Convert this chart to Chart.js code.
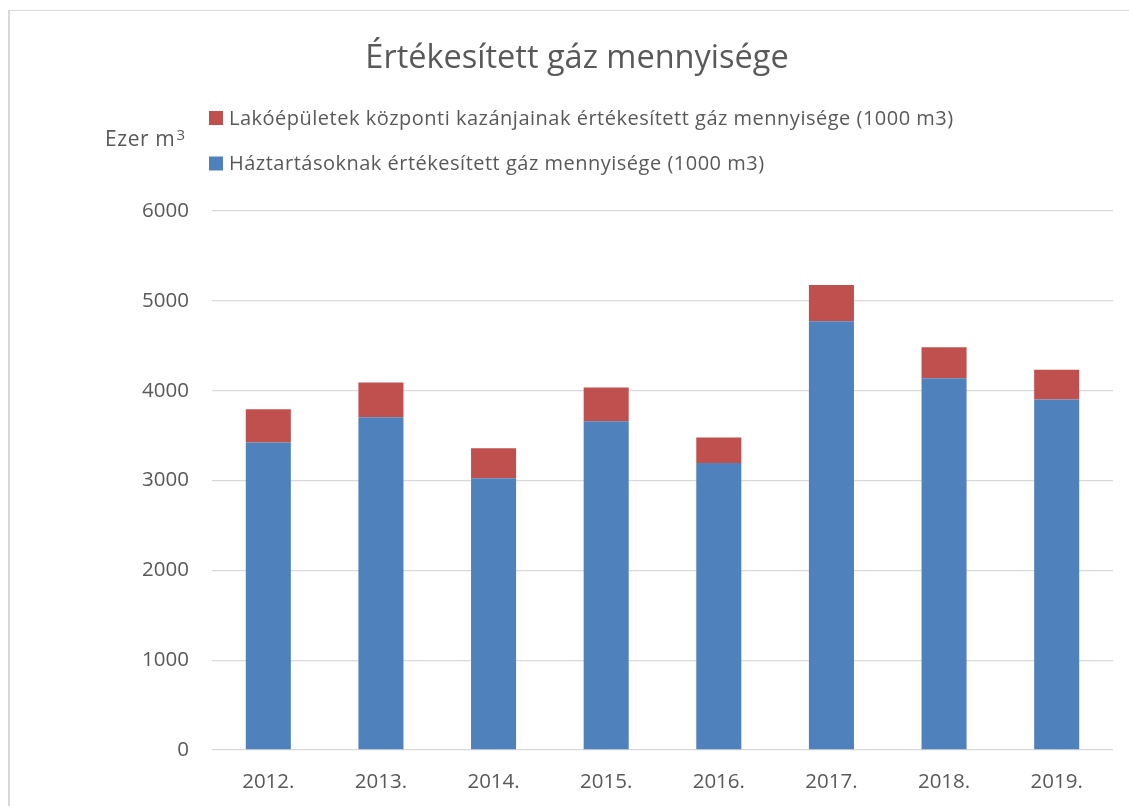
<!DOCTYPE html>
<html>
<head>
<meta charset="utf-8">
<script src="https://cdn.jsdelivr.net/npm/chart.js@4/dist/chart.umd.min.js"></script>
<style>
  html, body { margin: 0; padding: 0; background: #fff; overflow: hidden; }
  #wrap { position: absolute; left: 0; top: 0; width: 1129px; height: 806px; }
  #frame { position: absolute; left: 8px; top: 10px; width: 1200px; height: 900px;
           border-left: 2px solid #d9d9d9; border-top: 1px solid #d9d9d9; pointer-events: none; }
</style>
</head>
<body>
<div id="wrap"><canvas id="c" width="1129" height="806"></canvas></div>
<div id="frame"></div>
<script>
const categories = ['2012.', '2013.', '2014.', '2015.', '2016.', '2017.', '2018.', '2019.'];
const householdValues = [3422, 3705, 3026, 3660, 3196, 4774, 4139, 3901];
const centralBoilerValues = [372, 385, 334, 375, 282, 401, 345, 331];
const yTicks = [0, 1000, 2000, 3000, 4000, 5000, 6000];
const householdLabel = 'Háztartásoknak értékesített gáz mennyisége (1000 m3)';
const centralBoilerLabel = 'Lakóépületek központi kazánjainak értékesített gáz mennyisége (1000 m3)';
const titleText = 'Értékesített gáz mennyisége';
const axisUnit = 'Ezer m';
const axisUnitSup = '3';

const FONT = "'Open Sans', 'DejaVu Sans', sans-serif";
const TEXT = '#595959';

const customLegend = {
  id: 'customLegend',
  afterDraw(chart) {
    const ctx = chart.ctx;
    ctx.save();
    ctx.fillStyle = TEXT;
    ctx.textAlign = 'left';
    ctx.textBaseline = 'alphabetic';
    // unit label
    ctx.font = "21px " + FONT;
    ctx.letterSpacing = '0.6px';
    ctx.fillText(axisUnit, 105, 146);
    const w = ctx.measureText(axisUnit).width;
    ctx.font = "15px " + FONT;
    ctx.fillText(axisUnitSup, 105 + w + 1, 139.5);
    // legend (reverse of dataset order, as in the reference)
    const items = chart.data.datasets.slice().reverse();
    ctx.font = "20px " + FONT;
    ctx.letterSpacing = '0.5px';
    items.forEach((ds, i) => {
      const top = 111 + i * 45.5;
      ctx.fillStyle = ds.backgroundColor;
      ctx.fillRect(209, top, 14, 14);
      ctx.fillStyle = TEXT;
      ctx.fillText(ds.label, 229, top + 13.5);
    });
    ctx.restore();
  }
};

new Chart(document.getElementById('c'), {
  type: 'bar',
  data: {
    labels: categories,
    datasets: [
      { label: householdLabel, data: householdValues, backgroundColor: '#4f81bd', borderWidth: 0 },
      { label: centralBoilerLabel, data: centralBoilerValues, backgroundColor: '#c0504d', borderWidth: 0 }
    ]
  },
  options: {
    responsive: false,
    animation: false,
    devicePixelRatio: 1,
    layout: { padding: { left: 41, right: 16, top: 0, bottom: 0 } },
    datasets: { bar: { categoryPercentage: 1, barPercentage: 0.4 } },
    plugins: {
      legend: { display: false },
      tooltip: { enabled: false },
      title: {
        display: true,
        text: titleText,
        color: TEXT,
        font: { family: FONT, size: 32.5, weight: 'normal' },
        padding: { top: 39, bottom: 133 }
      }
    },
    scales: {
      x: {
        stacked: true,
        grid: { display: false },
        border: { display: false },
        ticks: { color: TEXT, font: { family: FONT, size: 20.5 }, padding: 12, maxRotation: 0 },
        afterFit(scale) { scale.height = 56; }
      },
      y: {
        stacked: true,
        min: 0,
        max: 6000,
        afterBuildTicks(scale) { scale.ticks = yTicks.map(v => ({ value: v })); },
        grid: { color: '#d9d9d9', lineWidth: 1.3, drawTicks: false },
        border: { display: false },
        ticks: {
          color: TEXT, font: { family: FONT, size: 20.5 }, padding: 23,
          callback: (v) => String(v)
        },
        afterFit(scale) { scale.width = 171; }
      }
    }
  },
  plugins: [customLegend]
});
</script>
</body>
</html>
